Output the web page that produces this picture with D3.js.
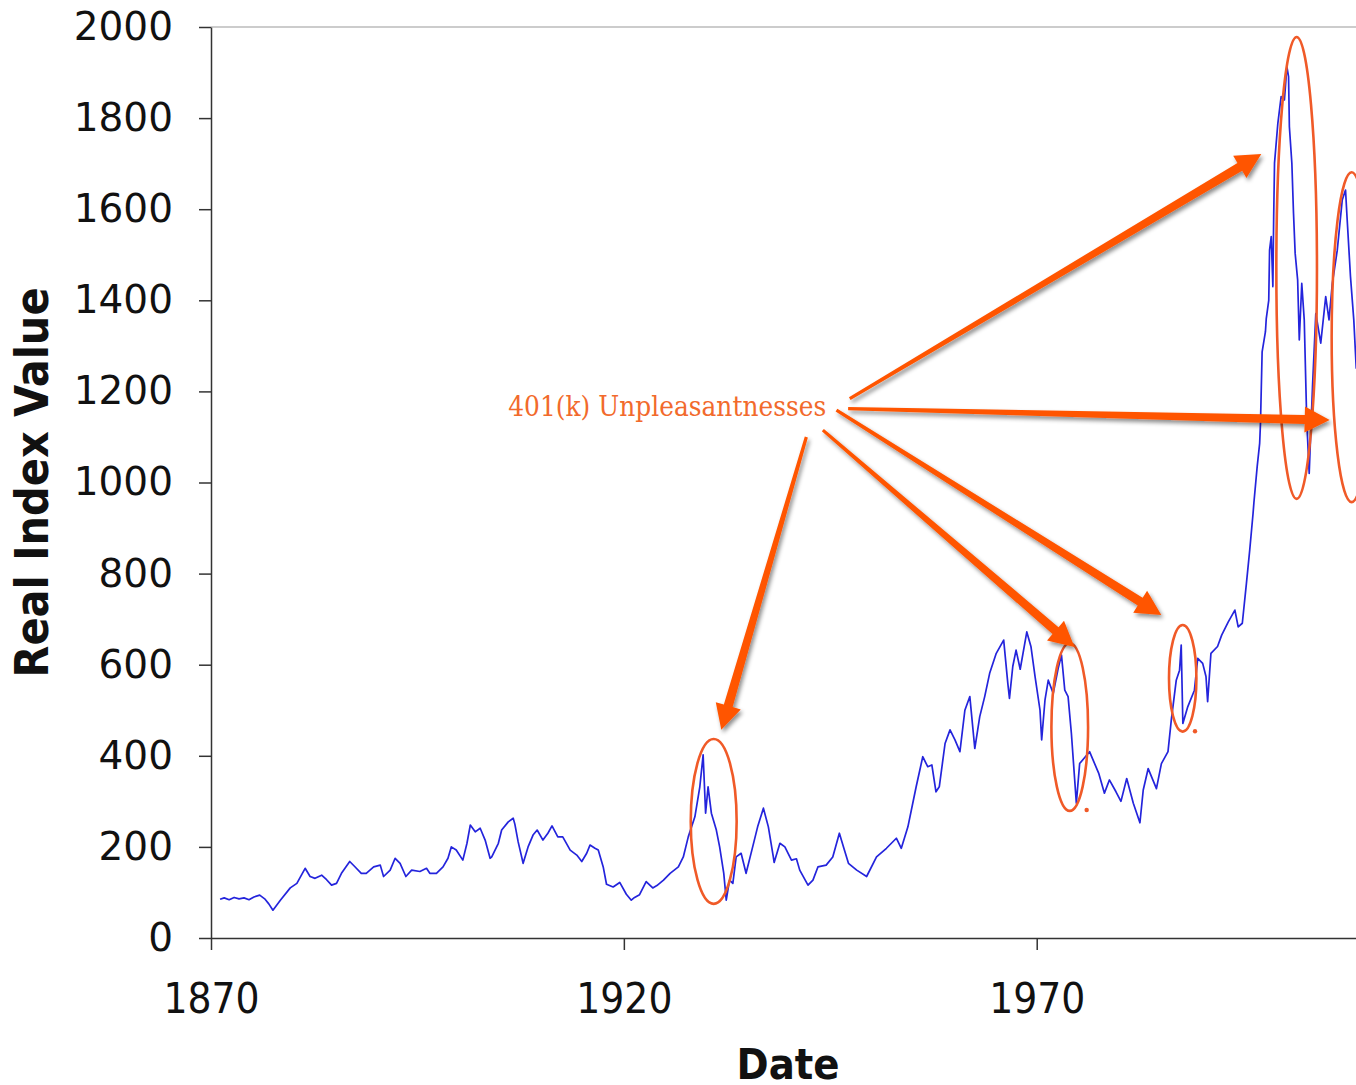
<!DOCTYPE html>
<html>
<head>
<meta charset="utf-8">
<script src="https://cdn.jsdelivr.net/npm/d3@7"></script>
<style>
  body { margin: 0; background: #fff; }
  svg { display: block; }
</style>
</head>
<body>
<svg id="chart"></svg>
<script>
// real index (year, value)
const years = [
  1871.1, 1871.6, 1872.2, 1872.8, 1873.4, 1874.0, 1874.6, 1875.2, 1875.9, 1876.5,
  1877.0, 1877.5, 1878.4, 1879.6, 1880.4, 1881.4, 1882.0, 1882.6, 1883.4, 1884.0,
  1884.6, 1885.2, 1885.8, 1886.8, 1887.4, 1888.2, 1888.8, 1889.7, 1890.5, 1890.9,
  1891.7, 1892.3, 1892.9, 1893.6, 1894.3, 1895.3, 1896.1, 1896.5, 1897.3, 1898.1,
  1898.7, 1899.1, 1899.7, 1900.5, 1901.0, 1901.4, 1902.0, 1902.6, 1903.2, 1903.8,
  1904.0, 1904.8, 1905.2, 1906.0, 1906.6, 1906.8, 1907.2, 1907.8, 1908.4, 1909.0,
  1909.5, 1910.2, 1910.8, 1911.3, 1912.0, 1912.6, 1913.5, 1914.3, 1914.9, 1915.5,
  1915.9, 1916.5, 1916.9, 1917.5, 1917.9, 1918.7, 1919.5, 1920.3, 1920.9, 1921.3,
  1921.9, 1922.7, 1923.5, 1924.0, 1924.8, 1925.6, 1926.6, 1927.2, 1927.8, 1928.6,
  1929.2, 1929.6, 1929.9, 1930.2, 1930.6, 1931.2, 1931.6, 1932.1, 1932.4, 1932.8,
  1933.2, 1933.6, 1934.2, 1934.8, 1935.6, 1936.2, 1936.9, 1937.5, 1938.1, 1938.2,
  1938.9, 1939.5, 1940.3, 1940.9, 1941.3, 1942.3, 1942.9, 1943.5, 1944.5, 1945.3,
  1946.1, 1946.6, 1947.2, 1948.2, 1949.4, 1950.6, 1951.8, 1953.0, 1953.6, 1954.4,
  1955.4, 1956.2, 1956.8, 1957.3, 1957.8, 1958.2, 1958.9, 1959.5, 1960.1, 1960.7,
  1961.3, 1961.9, 1962.5, 1963.1, 1963.7, 1964.3, 1965.1, 1966.0, 1966.5, 1966.7,
  1967.1, 1967.5, 1968.0, 1968.8, 1969.3, 1969.8, 1970.4, 1970.6, 1971.0, 1971.4,
  1972.0, 1972.6, 1973.0, 1973.4, 1973.8, 1974.2, 1974.8, 1975.2, 1976.4, 1977.5,
  1978.2, 1978.8, 1979.6, 1980.2, 1980.9, 1981.7, 1982.5, 1982.9, 1983.5, 1984.5,
  1985.1, 1985.9, 1986.3, 1986.9, 1987.3, 1987.5, 1987.7, 1988.3, 1989.1, 1989.5,
  1990.1, 1990.5, 1990.7, 1991.1, 1991.9, 1992.4, 1993.2, 1994.0, 1994.4, 1994.9,
  1995.4, 1995.8, 1996.2, 1996.3, 1996.7, 1997.0, 1997.1, 1997.3, 1997.7, 1997.8,
  1998.1, 1998.2, 1998.4, 1998.6, 1998.7, 1998.8, 1999.2, 1999.6, 2000.0, 2000.3,
  2000.5, 2000.6, 2000.9, 2001.1, 2001.3, 2001.6, 2001.8, 2002.1, 2002.4, 2002.7,
  2003.0, 2003.4, 2003.8, 2004.4, 2005.0, 2005.4, 2005.8, 2006.4, 2007.0, 2007.4,
  2007.6, 2008.0, 2008.4, 2008.7
];
const realIndex = [
  85, 88, 84, 89, 86, 88, 84, 90, 94, 86,
  75, 61, 83, 110, 120, 153, 135, 131, 138, 128,
  116, 120, 142, 168, 157, 142, 142, 156, 160, 135,
  149, 175, 164, 135, 149, 146, 153, 142, 142, 156,
  175, 200, 193, 171, 208, 248, 233, 241, 215, 175,
  178, 208, 237, 255, 263, 250, 211, 164, 200, 226,
  237, 215, 230, 246, 222, 222, 193, 182, 168, 186,
  204, 197, 193, 156, 118, 112, 122, 96, 83, 89,
  95, 124, 110, 115, 127, 142, 156, 178, 222, 266,
  332, 402, 274, 332, 274, 237, 200, 142, 83, 127,
  120, 178, 186, 142, 200, 244, 285, 244, 178, 166,
  208, 200, 171, 174, 149, 116, 127, 156, 160, 178,
  230, 200, 164, 149, 135, 178, 197, 219, 197, 244,
  332, 398, 376, 380, 321, 332, 427, 457, 435, 409,
  500, 530, 416, 486, 530, 581, 625, 654, 559, 526,
  596, 632, 590, 672, 640, 574, 500, 435, 522, 566,
  537, 592, 621, 544, 530, 449, 296, 383, 409, 362,
  318, 347, 321, 300, 350, 296, 253, 325, 372, 328,
  383, 409, 479, 566, 588, 643, 471, 508, 544, 614,
  603, 574, 519, 625, 640, 665, 694, 720, 683, 691,
  779, 852, 932, 955, 1035, 1086, 1130, 1287, 1331, 1360,
  1400, 1510, 1540, 1430, 1584, 1701, 1788, 1847, 1840, 1913,
  1891, 1781, 1701, 1591, 1503, 1445, 1313, 1437, 1357, 1137,
  1020, 1210, 1371, 1306, 1408, 1357, 1437, 1510, 1620, 1642,
  1577, 1452, 1357, 1250
];

const xTicks = [1870, 1920, 1970];
const yTicks = [0, 200, 400, 600, 800, 1000, 1200, 1400, 1600, 1800, 2000];

// callout, in chart units (year, value)
const calloutText = '401(k) Unpleasantnesses';
const calloutAt = [1906.0, 1146];
const circled = [            // centre year, centre value, half width (years), half height (value)
  [1930.88, 256, 2.78, 181],
  [1974.0, 463, 2.22, 184],
  [1987.68, 570, 1.66, 117],
  [2001.48, 1471, 2.46, 507],
  [2008.14, 1319, 2.42, 362],
];
const arrowFrom = [[1942.1, 1100], [1944.1, 1115], [1945.75, 1159], [1947.36, 1184], [1947.16, 1162]];
const arrowTo   = [[1931.8, 457], [1974.57, 639], [1985.09, 709], [1997.2, 1721], [2005.48, 1137]];
const strayDots = [[1976.05, 281], [1989.17, 454]];

const width = 1356;
const height = 1085;

const svg = d3.select('#chart')
  .attr('width', width)
  .attr('height', height);

const x = d3.scaleLinear().domain([1870, 2010]).range([211, 1367]);
const y = d3.scaleLinear().domain([0, 2000]).range([938, 27]);

const defs = svg.append('defs');
const shadow = defs.append('filter').attr('id', 'shadow')
  .attr('x', '-20%').attr('y', '-20%').attr('width', '140%').attr('height', '140%');
shadow.append('feDropShadow')
  .attr('dx', 2).attr('dy', 3).attr('stdDeviation', 2)
  .attr('flood-color', '#000').attr('flood-opacity', 0.45);

// frame top line
svg.append('line')
  .attr('x1', x(1870)).attr('x2', x(2010))
  .attr('y1', y(2000)).attr('y2', y(2000))
  .attr('stroke', '#999').attr('stroke-width', 1.2);

// axes
const yAxis = svg.append('g')
  .attr('transform', `translate(${x(1870)},0)`)
  .call(d3.axisLeft(y).tickValues(yTicks).tickFormat(d3.format('d'))
    .tickSize(12).tickPadding(26).tickSizeOuter(0));

yAxis.selectAll('text')
  .attr('fill', '#111')
  .style('font-family', '"DejaVu Sans", Verdana, sans-serif')
  .style('font-size', '39px');

const xAxis = svg.append('g')
  .attr('transform', `translate(0,${y(0)})`)
  .call(d3.axisBottom(x).tickValues(xTicks).tickFormat(d3.format('d'))
    .tickSize(12).tickPadding(33).tickSizeOuter(0));

xAxis.selectAll('text')
  .attr('fill', '#111')
  .style('font-family', '"DejaVu Sans Condensed", "DejaVu Sans", sans-serif')
  .style('font-stretch', 'condensed')
  .style('font-size', '42px');

svg.selectAll('.domain, .tick line')
  .attr('stroke', '#333')
  .attr('stroke-width', 1.5);

// axis titles
svg.append('text')
  .attr('transform', `translate(48,${(y(0) + y(2000)) / 2})rotate(-90)`)
  .attr('text-anchor', 'middle')
  .attr('textLength', 390)
  .attr('lengthAdjust', 'spacingAndGlyphs')
  .style('font-family', '"DejaVu Sans Condensed", "DejaVu Sans", sans-serif')
  .style('font-stretch', 'condensed')
  .style('font-weight', 'bold')
  .style('font-size', '46px')
  .attr('fill', '#111')
  .text('Real Index Value');

svg.append('text')
  .attr('x', 788)
  .attr('y', 1079)
  .attr('text-anchor', 'middle')
  .attr('textLength', 103)
  .attr('lengthAdjust', 'spacingAndGlyphs')
  .style('font-family', '"DejaVu Sans Condensed", "DejaVu Sans", sans-serif')
  .style('font-stretch', 'condensed')
  .style('font-weight', 'bold')
  .style('font-size', '43px')
  .attr('fill', '#111')
  .text('Date');

// the series
const series = years.map((yr, i) => ({ year: yr, value: realIndex[i] }));

svg.append('path')
  .datum(series)
  .attr('fill', 'none')
  .attr('stroke', '#2424dc')
  .attr('stroke-width', 1.7)
  .attr('stroke-linejoin', 'round')
  .attr('d', d3.line().x(d => x(d.year)).y(d => y(d.value)));

// ellipses round the drops
svg.append('g')
  .selectAll('ellipse')
  .data(circled)
  .join('ellipse')
  .attr('cx', d => x(d[0]))
  .attr('cy', d => y(d[1]))
  .attr('rx', d => x(d[0] + d[2]) - x(d[0]))
  .attr('ry', d => y(d[1] - d[3]) - y(d[1]))
  .attr('fill', 'none')
  .attr('stroke', '#f05a28')
  .attr('stroke-width', 2.6);

svg.append('g')
  .selectAll('circle')
  .data(strayDots)
  .join('circle')
  .attr('cx', d => x(d[0]))
  .attr('cy', d => y(d[1]))
  .attr('r', 2.2)
  .attr('fill', '#f05a28');

// tapered arrows
function arrowPoints(from, to) {
  const x0 = x(from[0]), y0 = y(from[1]);
  const x1 = x(to[0]), y1 = y(to[1]);
  const len = Math.hypot(x1 - x0, y1 - y0);
  const ux = (x1 - x0) / len, uy = (y1 - y0) / len;
  const nx = -uy, ny = ux;
  const headLen = 25, headHalf = 13, tailHalf = 1.6, neckHalf = 4.6;
  const bx = x1 - ux * headLen, by = y1 - uy * headLen;
  const pts = [
    [x0 + nx * tailHalf, y0 + ny * tailHalf],
    [bx + nx * neckHalf, by + ny * neckHalf],
    [bx + nx * headHalf, by + ny * headHalf],
    [x1, y1],
    [bx - nx * headHalf, by - ny * headHalf],
    [bx - nx * neckHalf, by - ny * neckHalf],
    [x0 - nx * tailHalf, y0 - ny * tailHalf],
  ];
  return pts.map(p => p.join(',')).join(' ');
}

svg.append('g')
  .attr('filter', 'url(#shadow)')
  .selectAll('polygon')
  .data(arrowFrom.map((f, i) => [f, arrowTo[i]]))
  .join('polygon')
  .attr('points', d => arrowPoints(d[0], d[1]))
  .attr('fill', '#ff5500');

svg.append('text')
  .attr('x', x(calloutAt[0]))
  .attr('y', y(calloutAt[1]))
  .attr('textLength', 318)
  .attr('lengthAdjust', 'spacingAndGlyphs')
  .style('font-family', '"DejaVu Serif", serif')
  .style('font-size', '27px')
  .attr('fill', '#f26a2c')
  .text(calloutText);
</script>
</body>
</html>
